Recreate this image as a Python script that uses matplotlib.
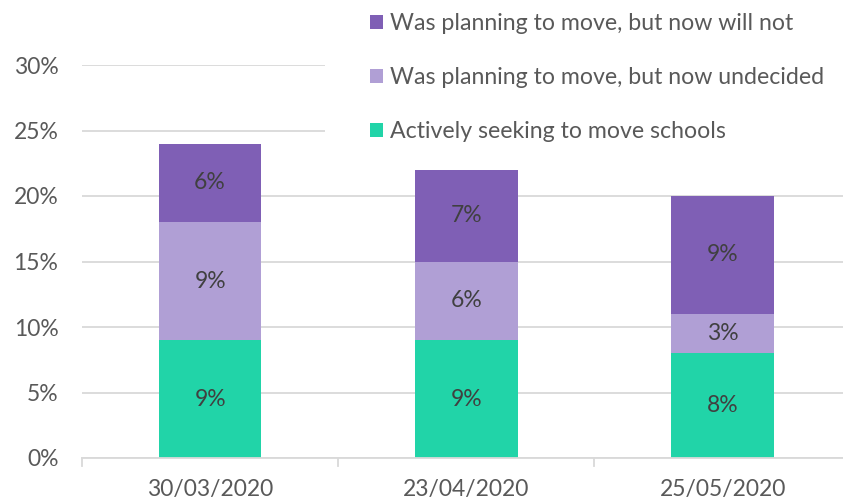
import matplotlib.pyplot as plt
from matplotlib.patches import Rectangle
import numpy as np

plt.rcParams['font.family'] = ['Lato', 'DejaVu Sans']

dates = ["30/03/2020", "23/04/2020", "25/05/2020"]
actively_seeking = [9, 9, 8]
now_undecided = [9, 6, 3]
now_will_not = [6, 7, 9]

series = [
    ("Actively seeking to move schools", actively_seeking, "#21D4A8"),
    ("Was planning to move, but now undecided", now_undecided, "#B09FD5"),
    ("Was planning to move, but now will not", now_will_not, "#7F5FB5"),
]

fig = plt.figure(figsize=(8.43, 4.99), dpi=100)
ax = fig.add_axes([82 / 843, 41 / 499, 1 - 82 / 843, 393 / 499])

x = np.arange(len(dates))
bottom = np.zeros(len(dates))
handles = []
for label, vals, color in series:
    bars = ax.bar(x, vals, 0.4, bottom=bottom, color=color, label=label, zorder=2)
    handles.append(bars)
    for xi, b, v in zip(x, bottom, vals):
        ax.text(xi, b + v / 2, f"{v}%", ha="center", va="center",
                fontsize=16.5, color="#404040", zorder=3)
    bottom = bottom + np.array(vals)

ax.set_ylim(0, 30)
ax.set_xlim(-0.5, 2.47)
ax.set_yticks(range(0, 31, 5))
ax.set_yticklabels([f"{t}%" for t in range(0, 31, 5)])
ax.set_xticks(x)
ax.set_xticklabels(dates)
ax.yaxis.grid(True, color="#D9D9D9", linewidth=1.3, zorder=0)
ax.set_axisbelow(True)
for s in ["top", "right", "left"]:
    ax.spines[s].set_visible(False)
ax.spines["bottom"].set_color("#D9D9D9")
ax.spines["bottom"].set_linewidth(1.3)
ax.tick_params(axis="y", length=0, labelsize=16.5, labelcolor="#595959", pad=17)
ax.tick_params(axis="x", length=0, labelsize=16.5, labelcolor="#595959", pad=15)

# category separator ticks on the x axis
for b in [-0.5, 0.5, 1.5]:
    ax.plot([b, b], [0, -0.6], color="#D9D9D9", lw=1.3, clip_on=False)

# white legend area hides the top gridlines on the right
fig.patches.append(Rectangle((325 / 843, 1 - 150 / 499), 1, 150 / 499,
                             transform=fig.transFigure, facecolor="white",
                             edgecolor="none", zorder=1))

leg = fig.legend(handles[::-1], [s[0] for s in series][::-1],
                 loc="upper left", bbox_to_anchor=(370 / 843, 1 - 13 / 499),
                 frameon=False, fontsize=16.7, labelcolor="#595959",
                 handlelength=0.57, handleheight=0.57, handletextpad=0.28,
                 labelspacing=1.42, borderpad=0, borderaxespad=0)

fig.savefig("out.png", dpi=100)
